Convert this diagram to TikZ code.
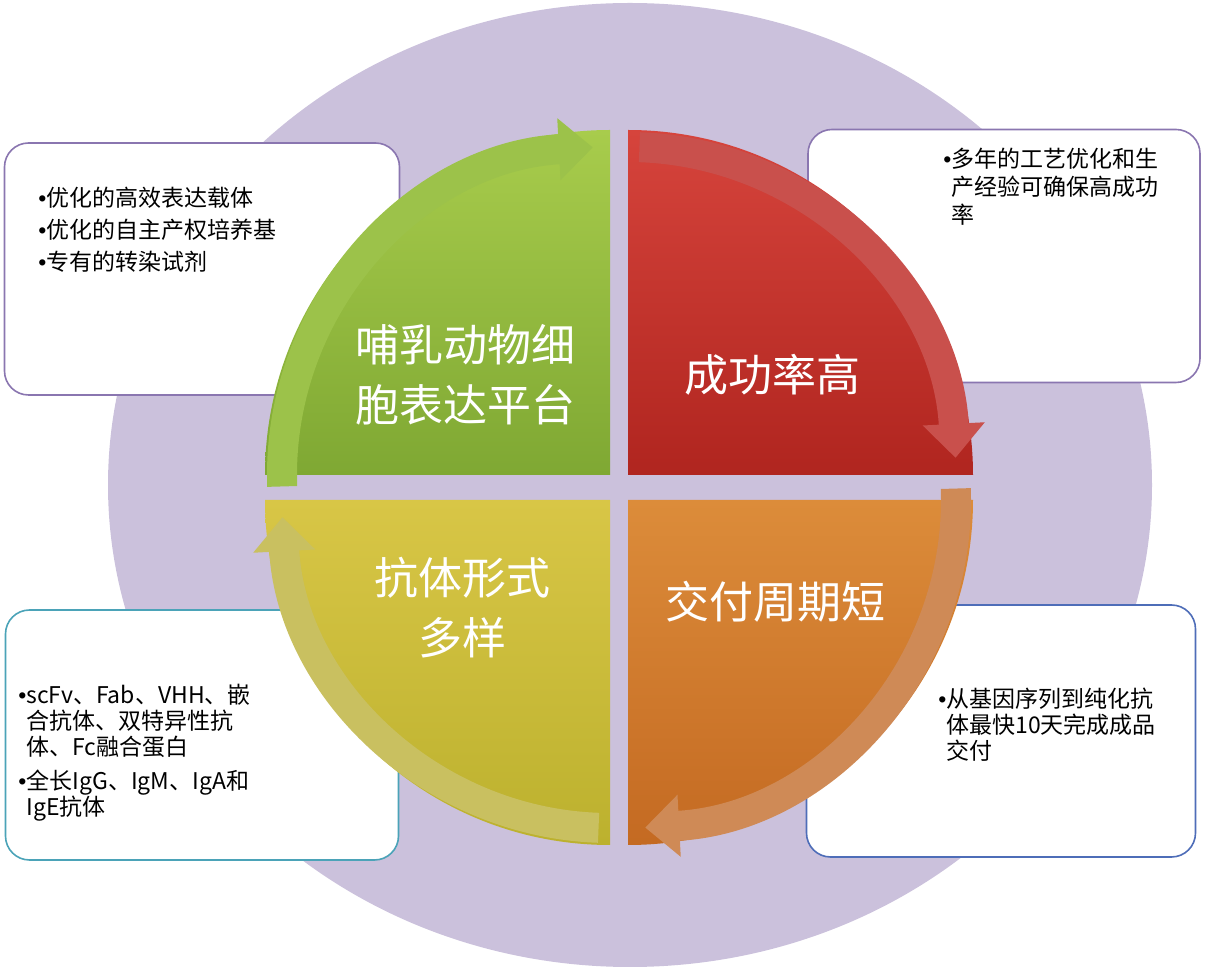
\documentclass[tikz,border=0pt]{standalone}
\usepackage{fontspec}
\setmainfont{Noto Sans CJK SC}
\newfontfamily\bulletfont{Liberation Sans}
\newcommand{\bul}{{\bulletfont •}}
\newcommand{\nobul}{\phantom{\bul}}
\usetikzlibrary{arrows.meta,positioning}
\definecolor{bgpurple}{HTML}{CBC1DC}
\definecolor{grnA}{HTML}{A8CC4C}\definecolor{grnB}{HTML}{7FA833}\definecolor{grnR}{HTML}{9CC24A}
\definecolor{redA}{HTML}{D6443C}\definecolor{redB}{HTML}{B0251F}\definecolor{redR}{HTML}{C9504C}
\definecolor{orgA}{HTML}{DC8C3A}\definecolor{orgB}{HTML}{C46A22}\definecolor{orgR}{HTML}{CF8A56}
\definecolor{ylwA}{HTML}{D8C646}\definecolor{ylwB}{HTML}{BCB12E}\definecolor{ylwR}{HTML}{C9C060}
\definecolor{edgepurple}{HTML}{8A76B0}\definecolor{edgeteal}{HTML}{4BA3B8}\definecolor{edgeblue}{HTML}{4E6DB8}
\tikzset{
  box/.style={draw, line width=0.8pt, rounded corners=12pt, fill=white},
  boxtext/.style={anchor=north west, align=left, font=\fontsize{11.5}{14}\selectfont, inner sep=0pt},
  bigtext/.style={text=white, align=center, font=\fontsize{22}{30}\selectfont},
  band/.style={line width=15pt, -{Triangle[width=30pt,length=17pt]}}
}
\begin{document}
\begin{tikzpicture}[x=0.5pt,y=0.5pt]
\useasboundingbox (0,0) rectangle (1212,-972);
% background disc
\fill[bgpurple] (630,-485) ellipse[x radius=261pt,y radius=241pt];
% side boxes
\node[box, draw=edgepurple, minimum width=197.5pt, minimum height=126pt] (boxTL) at (202,-269) {};
\node[box, draw=edgepurple, minimum width=196pt, minimum height=126.5pt] (boxTR) at (1004,-256) {};
\node[box, draw=edgeteal, minimum width=196.5pt, minimum height=125pt] (boxBL) at (202,-735) {};
\node[box, draw=edgeblue, minimum width=194.5pt, minimum height=126pt] (boxBR) at (1001,-731) {};
\node[boxtext, font=\fontsize{11.5}{16}\selectfont] (listTL) at (38,-187) {\bul{}优化的高效表达载体\\\bul{}优化的自主产权培养基\\\bul{}专有的转染试剂};
\node[boxtext] (listTR) at (943,-148) {\bul{}多年的工艺优化和生\\\nobul{}产经验可确保高成功\\\nobul{}率};
\node[boxtext, font=\fontsize{11.5}{13}\selectfont] (listBL) at (18,-684) {\bul{}scFv、Fab、VHH、嵌\\\nobul{}合抗体、双特异性抗\\\nobul{}体、Fc融合蛋白\\[4pt]\bul{}全长IgG、IgM、IgA和\\\nobul{}IgE抗体};
\node[boxtext, font=\fontsize{11.5}{13}\selectfont] (listBR) at (938,-688) {\bul{}从基因序列到纯化抗\\\nobul{}体最快10天完成成品\\\nobul{}交付};
% quadrants
\shade[top color=grnA, bottom color=grnB] (610,-475) -- ++(180:172.5pt) arc[start angle=180,end angle=90,radius=172.5pt] -- cycle;
\shade[top color=redA, bottom color=redB] (628,-475) -- ++(90:172.5pt) arc[start angle=90,end angle=0,radius=172.5pt] -- cycle;
\shade[top color=orgA, bottom color=orgB] (628,-500) -- ++(0:172.5pt) arc[start angle=0,end angle=-90,radius=172.5pt] -- cycle;
\shade[top color=ylwA, bottom color=ylwB] (610,-500) -- ++(-90:172.5pt) arc[start angle=-90,end angle=-180,radius=172.5pt] -- cycle;
% arrows on the rim
\draw[band, grnR] (610,-475) ++(182:164pt) arc[start angle=182,end angle=93,radius=164pt];
\draw[band, redR] (628,-475) ++(88:164pt) arc[start angle=88,end angle=3,radius=164pt];
\draw[band, orgR] (628,-500) ++(2:164pt) arc[start angle=2,end angle=-87,radius=164pt];
\draw[band, ylwR] (610,-500) ++(-92:164pt) arc[start angle=-92,end angle=-177,radius=164pt];
% quadrant titles
\node[bigtext] (mammal) at (465,-375) {哺乳动物细\\胞表达平台};
\node[bigtext] (success) at (772,-375) {成功率高};
\node[bigtext] (format) at (462,-608) {抗体形式\\多样};
\node[bigtext] (delivery) at (775,-602) {交付周期短};
\end{tikzpicture}
\end{document}
